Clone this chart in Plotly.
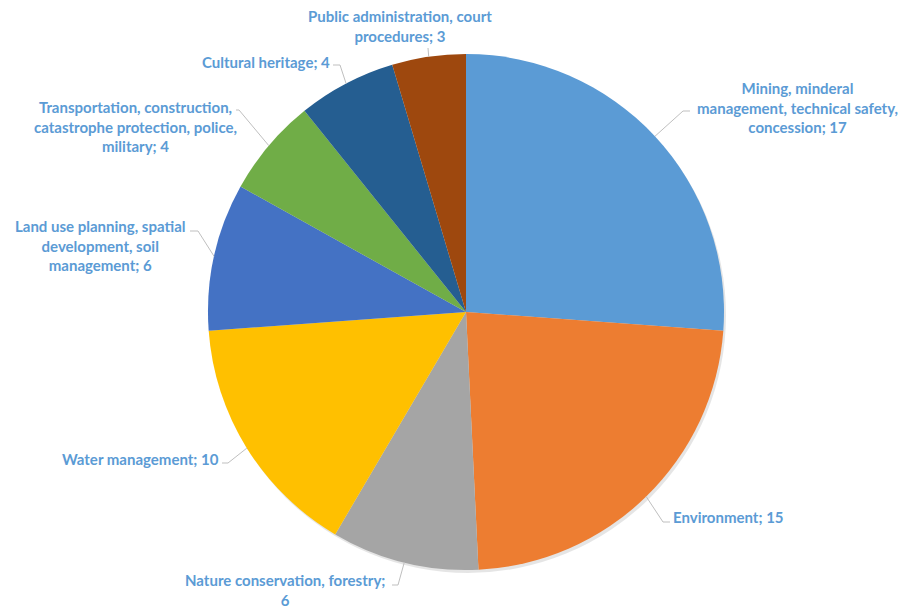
import math
import plotly.graph_objects as go

# ---- data ----
categories = [
    "Mining, minderal management, technical safety, concession",
    "Environment",
    "Nature conservation, forestry",
    "Water management",
    "Land use planning, spatial development, soil management",
    "Transportation, construction, catastrophe protection, police, military",
    "Cultural heritage",
    "Public administration, court procedures",
]
values = [17, 15, 6, 10, 6, 4, 4, 3]
label_lines = [
    ["Mining, minderal", "management, technical safety,", "concession; 17"],
    ["Environment; 15"],
    ["Nature conservation, forestry;", "6"],
    ["Water management; 10"],
    ["Land use planning, spatial", "development, soil", "management; 6"],
    ["Transportation, construction,", "catastrophe protection, police,", "military; 4"],
    ["Cultural heritage; 4"],
    ["Public administration, court", "procedures; 3"],
]
colors = ["#5B9BD5", "#ED7D31", "#A5A5A5", "#FFC000", "#4472C4", "#70AD47", "#255E91", "#9E480E"]

# ---- layout (pixels) ----
W, H = 908, 609
CX, CY, R = 466, 312, 258
# per-label: text x, text y (center of block), xanchor, leader elbow point, stub end
label_pos = [
    (797, 107, "center", (683, 111), (690, 111)),
    (671, 517, "left", (663, 522), (670, 522)),
    (285, 590, "center", (398, 585), (392, 585)),
    (221, 459, "right", (228, 463), (222, 463)),
    (100, 246, "center", (198, 231), (190, 231)),
    (135, 127, "center", (239, 110), (236, 110)),
    (332, 62, "right", (340, 65), (333, 65)),
    (400, 26, "center", (428, 48), (428, 48)),
]

def px(x):
    return x / W

def py(y):
    return 1 - y / H

fig = go.Figure()
# soft shadow
fig.add_trace(go.Pie(
    values=[1], marker=dict(colors=["rgba(0,0,0,0.10)"], line=dict(width=0)),
    textinfo="none", hoverinfo="skip", showlegend=False, sort=False,
    domain=dict(x=[px(CX - R + 2), px(CX + R + 2)], y=[py(CY + R + 3), py(CY - R + 3)]),
))
fig.add_trace(go.Pie(
    labels=categories, values=values, sort=False, direction="clockwise", rotation=0,
    marker=dict(colors=colors, line=dict(width=0)),
    textinfo="none", showlegend=False,
    domain=dict(x=[px(CX - R), px(CX + R)], y=[py(CY + R), py(CY - R)]),
))

total = sum(values)
cum = 0
shapes = []
annotations = []
for v, lines, (tx, ty, xa, elbow, stub) in zip(values, label_lines, label_pos):
    mid = (cum + v / 2) / total * 2 * math.pi
    cum += v
    ex = CX + R * math.sin(mid)
    ey = CY - R * math.cos(mid)
    for (x0, y0), (x1, y1) in [((ex, ey), elbow), (elbow, stub)]:
        shapes.append(dict(type="line", xref="paper", yref="paper",
                           x0=px(x0), y0=py(y0), x1=px(x1), y1=py(y1),
                           line=dict(color="#BFBFBF", width=1)))
    annotations.append(dict(
        x=px(tx), y=py(ty), xref="paper", yref="paper", xanchor=xa, yanchor="middle",
        text="<br>".join("<b>%s</b>" % l for l in lines), showarrow=False, align="center",
        font=dict(family="Lato", size=15, color="#5B9BD5"),
    ))

fig.update_layout(
    width=W, height=H, margin=dict(l=0, r=0, t=0, b=0),
    paper_bgcolor="white", plot_bgcolor="white",
    shapes=shapes, annotations=annotations,
)
fig.write_html("out.html")
